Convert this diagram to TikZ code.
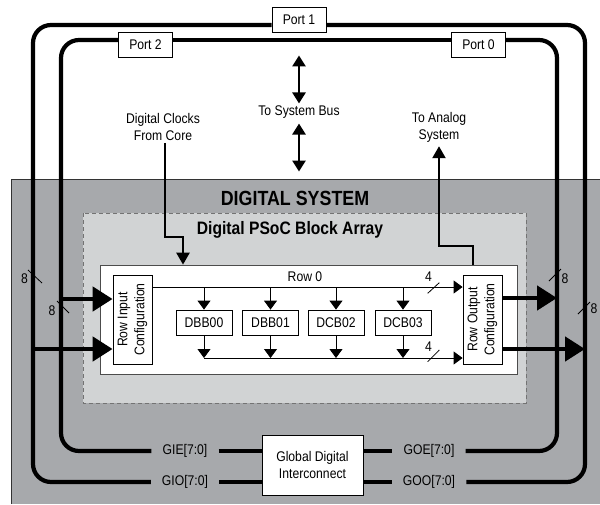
\documentclass[tikz,border=0pt]{standalone}
\usepackage{fontspec}
\setmainfont{Liberation Sans}[FakeStretch=0.87]
\usetikzlibrary{arrows.meta}
\definecolor{sysgray}{RGB}{167,169,172}
\definecolor{arraygray}{RGB}{209,211,212}

\begin{document}
\begin{tikzpicture}
[x=1pt,y=-1pt,%
  every node/.style={inner sep=1pt},%
  bus/.style={line width=4.2pt,rounded corners=18pt},%
  fat/.style={line width=4.6pt,-{Triangle[length=20pt,width=24pt]}},%
  wire/.style={line width=0.8pt},%
  flow/.style={line width=2.4pt,-{Triangle[length=12pt,width=13pt]}},%
  sysb/.style={line width=2.6pt,{Triangle[length=11pt,width=13pt]}-{Triangle[length=11pt,width=13pt]}},%
  box/.style={draw,fill=white,line width=0.8pt},%
  port/.style={box,minimum width=54pt,minimum height=25pt},%
  blk/.style={box,minimum width=56pt,minimum height=25pt},%
  cfg/.style={box,minimum width=39pt,minimum height=89pt},%
  sig/.style={inner xsep=11pt},%
  >={Triangle[length=9pt,width=13pt]}]
\fontsize{14}{17}\selectfont
\useasboundingbox (0,0) rectangle (600,504);
\fill[white] (0,0) rectangle (600,504);
\fill[sysgray] (11,179) rectangle (600,504);
\draw[line width=0.7pt,black!80] (11,504) |- (600,179);
\filldraw[fill=arraygray,draw=black!55,line width=0.7pt,dash pattern=on 4pt off 3pt] (83,213) rectangle (526,403);

\node[font=\bfseries\fontsize{20.5}{22}\selectfont] (dsys) at (295,198) {DIGITAL SYSTEM};
\node[font=\bfseries\fontsize{18}{20}\selectfont] (arr) at (290,230) {Digital PSoC Block Array};
\node[draw=black!70,fill=white,line width=0.7pt,minimum width=417pt,minimum height=109pt] (row) at (308.5,319.5) {};

\node[port] (p1) at (299,20) {Port 1};
\node[port] (p2) at (145.5,44.5) {Port 2};
\node[port] (p0) at (478.5,44.5) {Port 0};
\node (bus) at (299,112) {To System Bus};
\node[align=center] (clk) at (163,127) {Digital Clocks\\From Core};
\node[align=center] (ana) at (439,127) {To Analog\\System};

\node[sig] (gie) at (185,451) {GIE[7:0]};
\node[sig] (gio) at (185,482) {GIO[7:0]};
\node[sig] (goe) at (429,451) {GOE[7:0]};
\node[sig] (goo) at (429,482) {GOO[7:0]};
\node[box,minimum width=101pt,minimum height=60pt,align=center] (gdi) at (312.5,465) {Global Digital\\Interconnect};

\node[cfg] (ric) at (132.5,319.5) {\rotatebox{90}{\begin{tabular}{@{}c@{}}Row Input\\Configuration\end{tabular}}};
\node[cfg] (roc) at (482.5,319.5) {\rotatebox{90}{\begin{tabular}{@{}c@{}}Row Output\\Configuration\end{tabular}}};
\node[blk] (b0) at (204,322.5) {DBB00};
\node[blk] (b1) at (270.5,322.5) {DBB01};
\node[blk] (b2) at (336,322.5) {DCB02};
\node[blk] (b3) at (403,322.5) {DCB03};
\node (r0) at (305,277) {Row 0};

\draw[bus] ([yshift=-5pt]p1.west) -| (33,482) -- (gio.west);
\draw[bus] ([yshift=-5pt]p1.east) -| (585,482) -- (goo.east);
\draw[bus] ([yshift=4.5pt]p2.west) -| (61,451) -- (gie.west);
\draw[bus] ([yshift=4.5pt]p2.east) -- ([yshift=4.5pt]p0.west);
\draw[bus] ([yshift=4.5pt]p0.east) -| (557,451) -- (goe.east);
\draw[bus] (gie.east) -- (gie.east -| gdi.west);
\draw[bus] (gio.east) -- (gio.east -| gdi.west);
\draw[bus] (gdi.east |- goe.west) -- (goe.west);
\draw[bus] (gdi.east |- goo.west) -- (goo.west);

\draw[sysb] ([yshift=1pt]bus.north) -- ++(0,-48);
\draw[sysb] ([yshift=-4pt]bus.south) -- ++(0,48);
\draw[flow] ([xshift=2pt,yshift=-1pt]clk.south) |- (183,237) -- (row.north -| 183,0);
\draw[flow] (row.north -| 473,0) |- (ana.south |- 0,246) -- ([yshift=-3pt]ana.south);

\draw[fat] (61,299) -- (ric.west |- 0,299);
\draw[fat] (33,349) -- (ric.west |- 0,349);
\draw[fat] (roc.east |- 0,298) -- (557,298);
\draw[fat] (roc.east |- 0,349) -- (585,349);

\draw[wire,->] (ric.east |- 0,287) -- (roc.west |- 0,287);
\draw[wire,->] (b0.south |- 0,358) -- (roc.west |- 0,358);
\foreach \b in {b0,b1,b2,b3} {
  \draw[wire,->] (\b.north |- 0,287) -- (\b.north);
  \draw[wire,->] (\b.south) -- (\b.south |- 0,358);
}

\draw[wire] (427.7,293.3) -- (439.3,282.7);
\draw[wire] (427.7,361.7) -- (439.3,350);
\node (w0) at (428.5,277) {4};
\node (w1) at (428.5,347) {4};
\draw[wire] (28,270) -- (42,283);
\draw[wire] (57,301) -- (69,313);
\draw[wire] (549,281) -- (561,269);
\draw[wire] (578,314) -- (590,302);
\node (n0) at (24.5,278.5) {8};
\node (n1) at (52,310.5) {8};
\node (n2) at (565,278.5) {8};
\node (n3) at (594,309) {8};
\end{tikzpicture}
\end{document}
